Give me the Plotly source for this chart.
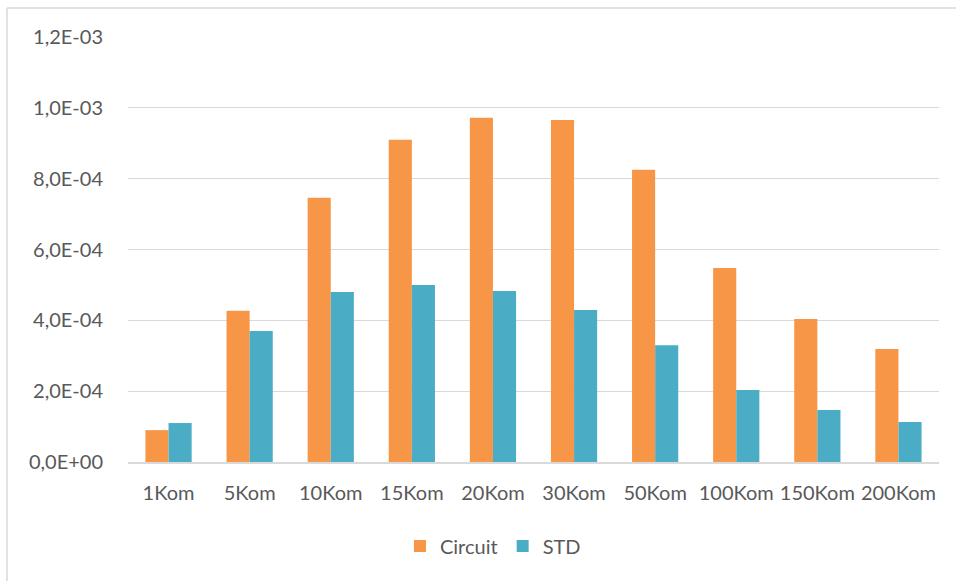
import plotly.graph_objects as go

categories = ["1Kom", "5Kom", "10Kom", "15Kom", "20Kom", "30Kom", "50Kom", "100Kom", "150Kom", "200Kom"]
circuit = [0.90e-4, 4.27e-4, 7.46e-4, 9.10e-4, 9.72e-4, 9.66e-4, 8.25e-4, 5.48e-4, 4.04e-4, 3.19e-4]
std = [1.10e-4, 3.70e-4, 4.80e-4, 5.00e-4, 4.83e-4, 4.29e-4, 3.30e-4, 2.03e-4, 1.47e-4, 1.13e-4]
y_tickvals = [0, 2e-4, 4e-4, 6e-4, 8e-4, 1.0e-3, 1.2e-3]
y_ticktext = ["0,0E+00", "2,0E-04", "4,0E-04", "6,0E-04", "8,0E-04", "1,0E-03", "1,2E-03"]

W, H = 956, 581
L, R, T, B = 128, 17, 37, 119

fig = go.Figure()
fig.add_trace(go.Bar(name="Circuit", x=categories, y=circuit, marker=dict(color="#F79646", line=dict(width=0))))
fig.add_trace(go.Bar(name="STD", x=categories, y=std, marker=dict(color="#4BACC6", line=dict(width=0))))

pw = W - L - R
ph = H - T - B
# chart frame: top and left edges visible
fig.add_shape(type="line", xref="paper", yref="paper",
              x0=(7 - L) / pw, x1=(W + 20 - L) / pw,
              y0=(H - B - 8) / ph, y1=(H - B - 8) / ph,
              line=dict(color="#D9D9D9", width=1.5), layer="below")
fig.add_shape(type="line", xref="paper", yref="paper",
              x0=(7 - L) / pw, x1=(7 - L) / pw,
              y0=(H - B - 8) / ph, y1=(H - B - H - 20) / ph,
              line=dict(color="#D9D9D9", width=1.5), layer="below")

fig.update_layout(
    width=W, height=H,
    margin=dict(l=L, r=R, t=T, b=B),
    paper_bgcolor="white", plot_bgcolor="white",
    barmode="group", bargap=0.43, bargroupgap=0,
    font=dict(family="Lato, 'Open Sans', sans-serif", size=20, color="#595959"),
    showlegend=True,
    legend=dict(orientation="h", x=0.45, xanchor="center", y=-0.152, yanchor="top",
                font=dict(size=20, color="#595959"), itemsizing="constant", traceorder="normal"),
    xaxis=dict(showgrid=False, showline=True, linecolor="#D9D9D9", linewidth=2,
               ticks="", tickfont=dict(size=20, color="#595959"), ticklabelstandoff=12),
    yaxis=dict(range=[0, 1.2e-3], tickvals=y_tickvals, ticktext=y_ticktext,
               showgrid=True, gridcolor="#D9D9D9", gridwidth=1, zeroline=False,
               showline=False, ticks="", tickfont=dict(size=20, color="#595959"),
               ticklabelstandoff=24),
)

fig.write_html("out.html",
               config={"displayModeBar": False},
               post_script="document.body.style.margin='0';document.body.style.overflow='hidden';")
